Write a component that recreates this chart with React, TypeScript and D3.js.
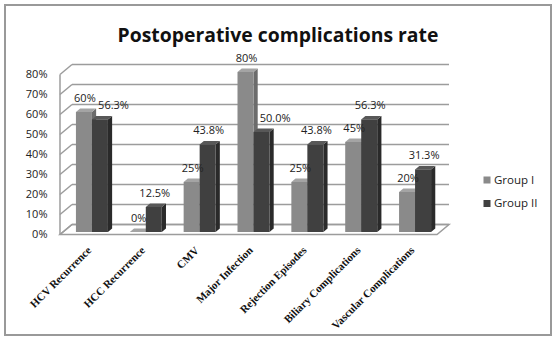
import React from "react";
import * as d3 from "d3";

const categories = [
  "HCV Recurrence",
  "HCC Recurrence",
  "CMV",
  "Major Infection",
  "Rejection Episodes",
  "Biliary Complications",
  "Vascular Complications",
];
const groupI = [60, 0, 25, 80, 25, 45, 20];
const groupII = [56.3, 12.5, 43.8, 50.0, 43.8, 56.3, 31.3];
const yTicks = [0, 10, 20, 30, 40, 50, 60, 70, 80];
const seriesNames = ["Group I", "Group II"];

const W = 558;
const H = 341;

const LABEL_FONT = "Open Sans";
const colors = [
  { front: "#8a8a8a", top: "#a4a4a4", side: "#6c6c6c" },
  { front: "#404040", top: "#585858", side: "#2a2a2a" },
];

let ctx: CanvasRenderingContext2D | null = null;
function measure(text: string, font: string): number {
  if (!ctx) {
    const c = document.createElement("canvas");
    ctx = c.getContext("2d");
  }
  if (!ctx) return text.length * 6;
  ctx.font = font;
  return ctx.measureText(text).width;
}

export default function App() {
  // 3D geometry
  const frontX0 = 60;
  const frontX1 = 437;
  const depthX = 12;
  const depthY = 10;
  const y = d3.scaleLinear().domain([0, 80]).range([234.5, 74.5]);
  const yBar = d3.scaleLinear().domain([0, 80]).range([232, 72]);
  const x = d3
    .scaleBand<string>()
    .domain(categories)
    .range([frontX0 + 5, frontX1 + 5]);
  const barW = 16;
  const bdx = 4.2;
  const bdy = 3.5;

  const fmt1 = (v: number) => d3.format(".0%")(v / 100);
  const fmt2 = (v: number) => d3.format(".1%")(v / 100);

  const labelSize = 11;
  const labelFont = `${labelSize}px "${LABEL_FONT}"`;

  const bars: any[] = [];
  const labels: any[] = [];
  categories.forEach((c, i) => {
    const cx = (x(c) as number) + x.bandwidth() / 2;
    const vals = [groupI[i], groupII[i]];
    const texts = [fmt1(groupI[i]), fmt2(groupII[i])];
    const rects: any[] = [];
    vals.forEach((v, s) => {
      const bx = cx - barW + s * barW;
      const top = yBar(v);
      const base = yBar(0);
      rects.push({ bx, top, base, s, v, key: `${i}-${s}` });
    });
    bars.push(...rects);
    // labels
    const boxes: any[] = [];
    vals.forEach((v, s) => {
      const r = rects[s];
      const w = measure(texts[s], labelFont);
      let lcx = r.bx + barW / 2 + 1;
      const baseline = r.top - bdy - 7;
      let box = { x0: lcx - w / 2, x1: lcx + w / 2, y0: baseline - 9, y1: baseline + 2 };
      if (s === 1) {
        const obstacles = [
          boxes[0],
          { x0: rects[0].bx, x1: rects[0].bx + barW + bdx, y0: rects[0].top - bdy, y1: rects[0].base },
        ];
        let shift = 0;
        obstacles.forEach((o) => {
          const yOver = box.y0 < o.y1 && box.y1 > o.y0;
          const xOver = box.x0 < o.x1 && box.x1 > o.x0;
          if (yOver && xOver) {
            shift = Math.max(shift, o.x1 + 2 - box.x0);
          }
        });
        lcx += shift;
        box = { x0: box.x0 + shift, x1: box.x1 + shift, y0: box.y0, y1: box.y1 };
      }
      boxes.push(box);
      labels.push({ text: texts[s], x: lcx, y: baseline, key: `l${i}-${s}` });
    });
  });

  const gridColor = "#9c9c9c";

  // title sizing
  const titleText = "Postoperative complications rate";
  const titleFontFamily = "Open Sans";
  const tw20 = measure(titleText, `bold 20px "${titleFontFamily}"`);
  const titleSize = Math.min(22, (20 * 321) / tw20);

  return (
    <svg
      width={W}
      height={H}
      style={{ position: "fixed", left: 0, top: 0, background: "#fff" }}
      xmlns="http://www.w3.org/2000/svg"
    >
      <rect x={0} y={0} width={W} height={H} fill="#fff" />
      <rect x={5} y={5} width={546} height={330} fill="none" stroke="#999" strokeWidth={2} />
      <text
        x={278}
        y={42}
        textAnchor="middle"
        fontFamily={titleFontFamily}
        fontWeight="bold"
        fontSize={titleSize}
        fill="#111"
      >
        {titleText}
      </text>

      {/* floor */}
      <polygon
        points={[
          [frontX0, y(0)],
          [frontX1, y(0)],
          [frontX1 + depthX, y(0) - depthY],
          [frontX0 + depthX, y(0) - depthY],
        ]
          .map((p) => p.join(","))
          .join(" ")}
        fill="none"
        stroke={gridColor}
        strokeWidth={1.5}
      />
      {/* left wall vertical */}
      <line x1={frontX0} x2={frontX0} y1={y(80)} y2={y(0)} stroke={gridColor} strokeWidth={1.5} />
      {/* gridlines */}
      {yTicks.map((t) => (
        <g key={t}>
          <line
            x1={frontX0}
            y1={y(t)}
            x2={frontX0 + depthX}
            y2={y(t) - depthY}
            stroke={gridColor}
            strokeWidth={1.5}
          />
          <line
            x1={frontX0 + depthX}
            y1={y(t) - depthY}
            x2={frontX1 + depthX}
            y2={y(t) - depthY}
            stroke={gridColor}
            strokeWidth={1.5}
          />
          <text
            x={47.5}
            y={y(t)}
            dy="0.35em"
            textAnchor="end"
            fontFamily={LABEL_FONT}
            fontSize={labelSize}
            fill="#222"
          >
            {d3.format(".0%")(t / 100)}
          </text>
        </g>
      ))}

      {/* bars */}
      {bars.map((b) => {
        const c = colors[b.s];
        const { bx, top, base } = b;
        const side = [
          [bx + barW, top],
          [bx + barW + bdx, top - bdy],
          [bx + barW + bdx, base - bdy],
          [bx + barW, base],
        ];
        const topFace = [
          [bx, top],
          [bx + bdx, top - bdy],
          [bx + barW + bdx, top - bdy],
          [bx + barW, top],
        ];
        return (
          <g key={b.key}>
            <polygon points={side.map((p) => p.join(",")).join(" ")} fill={c.side} />
            <polygon points={topFace.map((p) => p.join(",")).join(" ")} fill={c.top} />
            {base - top > 0 && (
              <rect x={bx} y={top} width={barW} height={base - top} fill={c.front} />
            )}
          </g>
        );
      })}

      {/* data labels */}
      {labels.map((l) => (
        <text
          key={l.key}
          x={l.x}
          y={l.y}
          textAnchor="middle"
          fontFamily={LABEL_FONT}
          fontSize={labelSize}
          fill="#222"
        >
          {l.text}
        </text>
      ))}

      {/* category labels */}
      {categories.map((c) => {
        const cx = (x(c) as number) + x.bandwidth() / 2;
        return (
          <text
            key={c}
            transform={`translate(${cx},${251}) rotate(-45)`}
            textAnchor="end"
            fontFamily="Liberation Serif"
            fontWeight="bold"
            fontSize={11}
            fill="#111"
          >
            {c}
          </text>
        );
      })}

      {/* legend */}
      {seriesNames.map((n, i) => (
        <g key={n}>
          <rect x={483.5} y={176.5 + i * 23.5} width={7} height={7} fill={colors[i].front} />
          <text
            x={494}
            y={183.5 + i * 23.5}
            fontFamily={LABEL_FONT}
            fontSize={11.5}
            fill="#222"
          >
            {n}
          </text>
        </g>
      ))}
    </svg>
  );
}
